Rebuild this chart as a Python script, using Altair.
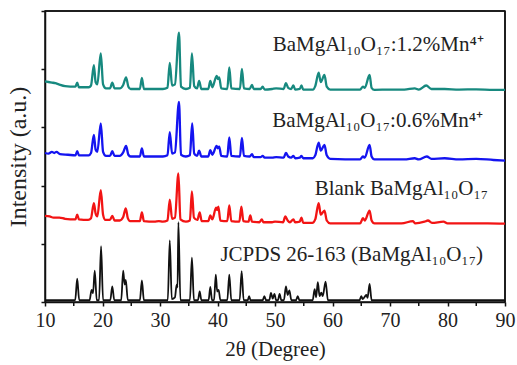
import altair as alt
import pandas as pd

# ---- data (2theta in degrees, intensity in offset units) ----
BLACK = [(10.0,0.03),(15.25,0.03),(15.6,0.40),(15.95,0.03),
 (17.75,0.03),(18.1,0.21),(18.35,0.15),(18.65,0.54),(19.0,0.03),
 (19.4,0.03),(19.75,0.96),(20.1,0.03),
 (21.35,0.03),(21.7,0.27),(22.05,0.03),
 (23.25,0.03),(23.6,0.54),(23.85,0.30),(24.05,0.38),(24.4,0.03),
 (26.5,0.03),(26.85,0.37),(27.2,0.03),
 (31.35,0.03),(31.7,1.06),(32.05,0.05),(32.6,0.08),(32.9,0.30),(33.05,0.25),(33.2,1.37),(33.55,0.03),
 (35.2,0.03),(35.55,0.76),(35.9,0.03),
 (36.6,0.03),(36.9,0.18),(37.2,0.03),
 (38.45,0.03),(38.75,0.26),(39.05,0.03),
 (39.4,0.03),(39.7,0.47),(39.95,0.18),(40.2,0.21),(40.5,0.03),
 (41.7,0.03),(42.05,0.47),(42.4,0.03),
 (43.85,0.03),(44.2,0.53),(44.55,0.03),
 (45.25,0.03),(45.5,0.10),(45.75,0.03),
 (47.85,0.03),(48.15,0.10),(48.45,0.03),
 (49.0,0.03),(49.3,0.155),(49.6,0.06),(49.9,0.14),(50.2,0.03),
 (50.5,0.03),(50.8,0.14),(51.1,0.03),
 (51.55,0.03),(51.9,0.27),(52.2,0.12),(52.5,0.20),(52.85,0.03),
 (53.65,0.03),(53.95,0.10),(54.25,0.03),
 (56.55,0.03),(56.9,0.22),(57.15,0.08),(57.45,0.34),(57.75,0.10),(58.05,0.16),(58.3,0.10),(58.8,0.35),(59.2,0.03),
 (64.7,0.03),(65.0,0.10),(65.25,0.05),(65.9,0.12),(66.1,0.07),(66.45,0.31),(66.8,0.03),
 (90.0,0.03)]

RED = [(10.0,1.48),(10.8,1.47),(11.5,1.45),(12.5,1.45),(13.5,1.43),(15.3,1.42),(15.6,1.50),(15.9,1.42),
 (17.5,1.41),(18.0,1.44),(18.5,1.70),(18.8,1.52),(19.1,1.47),(19.7,1.92),(20.1,1.50),(20.5,1.41),
 (21.3,1.41),(21.7,1.48),(22.1,1.40),(23.0,1.40),(23.6,1.46),(24.05,1.61),(24.4,1.44),(24.8,1.39),
 (26.5,1.39),(26.85,1.54),(27.2,1.39),(29.0,1.38),(29.8,1.39),(30.5,1.38),
 (31.3,1.40),(31.7,1.76),(32.1,1.43),(32.6,1.45),(33.2,2.21),(33.55,1.42),(34.5,1.38),
 (35.2,1.40),(35.55,1.90),(35.9,1.45),(36.5,1.41),(36.9,1.54),(37.25,1.39),
 (38.4,1.39),(38.75,1.49),(39.1,1.42),(39.75,1.62),(39.95,1.58),(40.15,1.64),(40.5,1.40),
 (41.7,1.39),(42.05,1.66),(42.4,1.39),(43.8,1.38),(44.15,1.64),(44.5,1.39),
 (45.4,1.38),(45.7,1.49),(46.0,1.38),(47.3,1.37),(47.7,1.42),(48.0,1.37),(49.5,1.37),(50.0,1.38),
 (51.4,1.37),(51.8,1.47),(52.2,1.40),(52.6,1.37),(53.2,1.42),(53.5,1.37),(54.3,1.38),(54.6,1.45),(54.9,1.36),
 (56.5,1.36),(57.0,1.42),(57.6,1.70),(57.95,1.50),(58.6,1.57),(59.0,1.40),(59.6,1.35),
 (64.8,1.35),(65.3,1.44),(65.6,1.40),(66.45,1.57),(66.8,1.40),(67.3,1.35),
 (70.0,1.35),(72.0,1.35),(74.0,1.39),(74.4,1.35),(76.0,1.38),(76.6,1.40),(77.3,1.36),(79.3,1.38),
 (80.0,1.35),(83.0,1.35),(87.0,1.35),(90.0,1.345)]

BLUE = [(10.0,2.56),(10.6,2.55),(11.2,2.58),(11.6,2.56),(12.0,2.58),(12.6,2.54),(14.0,2.53),(15.3,2.52),(15.6,2.59),(15.9,2.52),
 (17.6,2.52),(18.0,2.56),(18.5,2.87),(18.8,2.62),(19.1,2.58),(19.7,3.07),(20.1,2.58),(20.6,2.51),
 (21.3,2.51),(21.7,2.59),(22.1,2.51),(23.0,2.51),(23.6,2.57),(24.1,2.68),(24.5,2.53),(24.9,2.50),
 (26.5,2.50),(26.85,2.64),(27.2,2.50),(29.0,2.50),(30.5,2.50),
 (31.3,2.52),(31.7,2.92),(32.1,2.55),(32.6,2.57),(33.3,3.44),(33.65,2.53),(34.5,2.50),
 (35.2,2.52),(35.6,3.07),(35.95,2.55),(36.45,2.51),(36.8,2.60),(37.2,2.50),
 (38.4,2.50),(38.75,2.61),(39.1,2.53),(39.85,2.68),(40.05,2.64),(40.3,2.67),(40.65,2.51),
 (41.7,2.50),(42.05,2.83),(42.4,2.51),(43.9,2.50),(44.25,2.82),(44.6,2.51),
 (45.6,2.50),(46.0,2.54),(46.3,2.49),(47.5,2.49),(47.85,2.51),(48.2,2.48),(49.5,2.48),(50.2,2.49),
 (51.5,2.48),(51.9,2.56),(52.3,2.50),(52.8,2.48),(53.2,2.51),(53.5,2.47),(54.3,2.48),(54.6,2.51),(54.9,2.47),
 (56.6,2.47),(57.0,2.52),(57.6,2.74),(57.95,2.60),(58.6,2.70),(59.0,2.52),(59.6,2.46),
 (64.8,2.45),(65.3,2.50),(65.6,2.48),(66.45,2.70),(66.8,2.50),(67.3,2.45),
 (70.0,2.45),(72.5,2.45),(74.3,2.47),(75.0,2.45),(76.4,2.50),(77.2,2.46),(79.5,2.47),(82.0,2.45),
 (85.0,2.46),(88.0,2.44),(90.0,2.43)]

TEAL = [(10.0,3.79),(10.6,3.78),(11.2,3.77),(11.8,3.76),(12.4,3.74),(13.5,3.71),(15.3,3.70),(15.6,3.77),(15.9,3.69),
 (17.6,3.69),(18.0,3.72),(18.5,4.07),(18.8,3.78),(19.1,3.74),(19.7,4.27),(20.1,3.74),(20.6,3.67),
 (21.3,3.67),(21.7,3.77),(22.1,3.67),(23.0,3.67),(23.6,3.73),(24.1,3.86),(24.5,3.70),(24.9,3.66),
 (26.5,3.66),(26.85,3.85),(27.2,3.66),(29.0,3.66),(30.5,3.66),
 (31.3,3.68),(31.7,4.11),(32.1,3.72),(32.6,3.74),(33.3,4.63),(33.65,3.70),(34.5,3.66),
 (35.2,3.68),(35.55,4.27),(35.95,3.71),(36.45,3.67),(36.8,3.80),(37.2,3.66),
 (38.4,3.66),(38.75,3.80),(39.1,3.69),(39.85,3.885),(40.05,3.83),(40.3,3.86),(40.65,3.67),
 (41.7,3.66),(42.05,4.03),(42.4,3.67),(43.9,3.66),(44.25,4.005),(44.6,3.67),
 (45.6,3.66),(46.0,3.73),(46.3,3.66),(47.5,3.66),(47.85,3.70),(48.2,3.65),(49.5,3.66),(50.2,3.67),
 (51.5,3.66),(51.9,3.76),(52.3,3.68),(52.8,3.66),(53.2,3.72),(53.5,3.65),(54.3,3.66),(54.6,3.72),(54.9,3.65),
 (56.6,3.65),(57.0,3.71),(57.6,3.94),(57.95,3.78),(58.6,3.90),(59.0,3.70),(59.6,3.65),
 (64.8,3.65),(65.3,3.70),(65.6,3.68),(66.45,3.90),(66.8,3.68),(67.3,3.645),
 (70.0,3.65),(72.5,3.65),(74.3,3.67),(75.0,3.65),(76.3,3.72),(77.2,3.66),(79.5,3.66),(82.0,3.65),
 (85.0,3.655),(88.0,3.645),(90.0,3.645)]

SERIES = ["JCPDS", "Blank", "0.6", "1.2"]
COLORS = ["#111111", "#f21414", "#1414f0", "#17897f"]

LABELS = ["BaMgAl\u2081\u2080O\u2081\u2087:1.2%Mn\u2074\u207a",
          "BaMgAl\u2081\u2080O\u2081\u2087:0.6%Mn\u2074\u207a",
          "Blank BaMgAl\u2081\u2080O\u2081\u2087",
          "JCPDS 26-163 (BaMgAl\u2081\u2080O\u2081\u2087)"]
LABEL_X = [49.6, 49.5, 56.9, 40.5]
LABEL_Y = [4.32, 3.00, 1.84, 0.71]

X_MAJOR = [10, 20, 30, 40, 50, 60, 70, 80, 90]
X_MINOR = [15, 25, 35, 45, 55, 65, 75, 85]
Y_TICKS = [0, 1, 2, 3, 4, 5]
FRAME_X = [90]      # right border sits on the last 2-theta value
FRAME_Y = [5]       # top border sits on the top of the intensity range

rows = []
for name, pts in zip(SERIES, [BLACK, RED, BLUE, TEAL]):
    for i, (t, v) in enumerate(pts):
        rows.append({"series": name, "t": t, "v": v, "i": i})
df = pd.DataFrame(rows)
lab = pd.DataFrame({"t": LABEL_X, "v": LABEL_Y, "label": LABELS})
minor = pd.DataFrame({"t": X_MINOR})
fx = pd.DataFrame({"t": FRAME_X})
fy = pd.DataFrame({"v": FRAME_Y})

FONT = "Liberation Serif"

xscale = alt.Scale(domain=[10, 90], nice=False, zero=False)
yscale = alt.Scale(domain=[0, 5], nice=False, zero=False)

xaxis = alt.Axis(values=X_MAJOR, title="2\u03b8 (Degree)", grid=False,
                 tickSize=4, tickWidth=1.5, domainWidth=1.5,
                 domainColor="#111", tickColor="#111",
                 labelFont=FONT, labelFontSize=20, labelColor="#222", labelPadding=4,
                 labelFlush=False,
                 titleFont=FONT, titleFontSize=21, titleFontWeight="normal",
                 titleColor="#222", titlePadding=8)
yaxis = alt.Axis(values=Y_TICKS, labels=False, grid=False, title="Intensity (a.u.)",
                 tickSize=4, tickWidth=1.5, domainWidth=1.5,
                 domainColor="#111", tickColor="#111",
                 titleFont=FONT, titleFontSize=24, titleFontWeight="normal",
                 titleColor="#222", titlePadding=10)

color = alt.Color("series:N", scale=alt.Scale(domain=SERIES, range=COLORS), legend=None)

right_border = alt.Chart(fx).mark_rule(color="#111", strokeWidth=1.5).encode(
    x=alt.X("t:Q", scale=xscale, axis=xaxis), y=alt.value(0), y2=alt.value(291))
top_border = alt.Chart(fy).mark_rule(color="#111", strokeWidth=1.5).encode(
    y=alt.Y("v:Q", scale=yscale, axis=yaxis), x=alt.value(0), x2=alt.value(460))

minor_ticks = alt.Chart(minor).mark_rule(color="#111", strokeWidth=1.5).encode(
    x=alt.X("t:Q", scale=xscale, axis=xaxis), y=alt.value(291), y2=alt.value(295))

black = alt.Chart(df).transform_filter(alt.datum.series == "JCPDS").mark_line(
    strokeWidth=1.8, interpolate="monotone").encode(
    x=alt.X("t:Q", scale=xscale, axis=xaxis),
    y=alt.Y("v:Q", scale=yscale, axis=yaxis),
    color=color, order="i:Q")

coloured = alt.Chart(df).transform_filter(alt.datum.series != "JCPDS").mark_line(
    strokeWidth=2.3, interpolate="monotone").encode(
    x=alt.X("t:Q", scale=xscale, axis=xaxis),
    y=alt.Y("v:Q", scale=yscale, axis=yaxis),
    color=color, order="i:Q")

texts = alt.Chart(lab).mark_text(align="left", baseline="alphabetic", font=FONT,
                                 fontSize=21, color="#222").encode(
    x=alt.X("t:Q", scale=xscale, axis=xaxis),
    y=alt.Y("v:Q", scale=yscale, axis=yaxis),
    text="label:N")

chart = alt.layer(right_border, top_border, minor_ticks, black, coloured, texts).properties(
    width=460, height=291,
    autosize=alt.AutoSizeParams(type="none"),
    padding={"left": 45, "top": 11, "right": 12, "bottom": 63},
).configure_view(stroke="#111", strokeWidth=1.5)

chart.save("out.html", embed_options={"renderer": "svg", "actions": False})
